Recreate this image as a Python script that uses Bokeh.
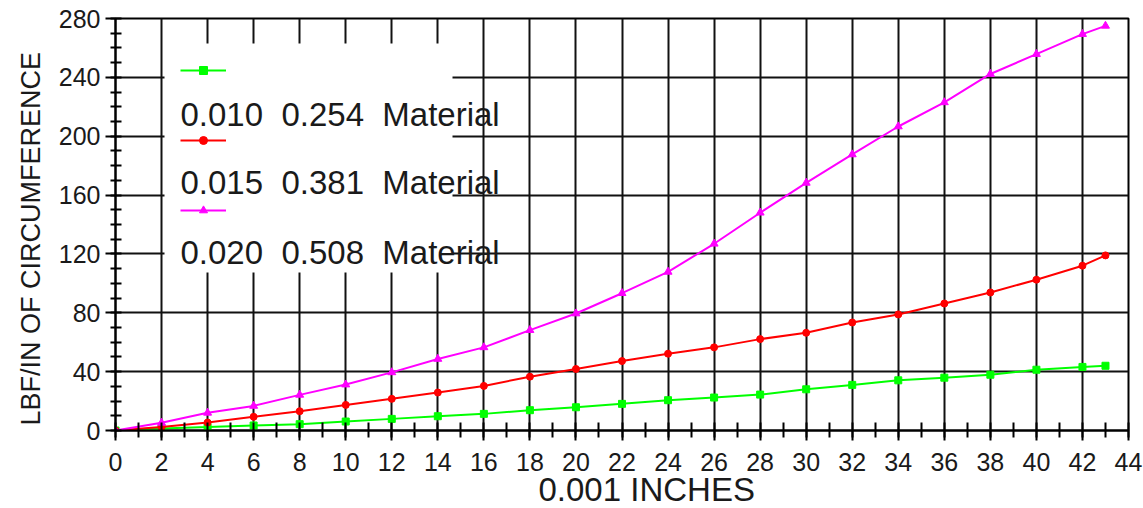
from bokeh.plotting import figure
from bokeh.models import (SingleIntervalTicker, Range1d, BoxAnnotation, Label,
                          Legend, LegendItem, Title)
from bokeh.embed import file_html
from bokeh.resources import INLINE

# ---- data ----
deflection = [0, 2, 4, 6, 8, 10, 12, 14, 16, 18, 20, 22, 24, 26, 28, 30,
              32, 34, 36, 38, 40, 42, 43]
force_010 = [0, 1.4, 2.3, 3.4, 4.3, 6.1, 7.9, 9.7, 11.3, 13.8, 15.8, 18.1,
             20.6, 22.4, 24.4, 28.0, 31.0, 34.1, 35.9, 37.9, 41.3, 43.2, 44.0]
force_015 = [0, 2.3, 5.4, 9.3, 13.1, 17.4, 21.5, 25.8, 30.3, 36.6, 41.8, 47.2,
             52.2, 56.5, 62.1, 66.4, 73.4, 78.9, 86.3, 93.8, 102.5, 112.0, 119.0]
force_020 = [0, 5.2, 12.0, 16.7, 24.2, 31.2, 39.5, 48.6, 56.5, 68.2, 79.5, 93.3,
             107.8, 126.9, 148.0, 168.3, 187.6, 206.6, 223.0, 242.3, 255.8, 269.4, 275.0]
series_labels = ["0.010\u00a0\u00a00.254\u00a0\u00a0Material",
                 "0.015\u00a0\u00a00.381\u00a0\u00a0Material",
                 "0.020\u00a0\u00a00.508\u00a0\u00a0Material"]
x_title = "0.001 INCHES"
y_title = "LBF/IN OF CIRCUMFERENCE"

FONT = "Liberation Sans"
TXT = "#1a1a1a"

p = figure(width=1143, height=508, output_backend="svg", toolbar_location=None,
           x_range=Range1d(0, 44), y_range=Range1d(0, 280),
           min_border_left=115, min_border_right=15, min_border_top=18,
           min_border_bottom=78)
p.background_fill_color = "white"
p.border_fill_color = "white"
p.outline_line_color = "black"
p.outline_line_width = 2

p.xaxis.ticker = SingleIntervalTicker(interval=2, num_minor_ticks=2)
p.yaxis.ticker = SingleIntervalTicker(interval=40, num_minor_ticks=4)

for g in (p.xgrid, p.ygrid):
    g.grid_line_color = "#111111"
    g.grid_line_width = 2

for ax in (p.xaxis, p.yaxis):
    ax.axis_line_color = "black"
    ax.axis_line_width = 2
    ax.major_tick_line_color = "black"
    ax.major_tick_line_width = 2
    ax.minor_tick_line_color = "black"
    ax.minor_tick_line_width = 2
    ax.major_tick_in = 0
    ax.major_tick_out = 10
    ax.major_label_text_font = FONT
    ax.major_label_text_font_size = "25px"
    ax.major_label_text_color = TXT

p.xaxis.minor_tick_in = 8
p.xaxis.minor_tick_out = 7
p.xaxis.major_label_standoff = 12
p.yaxis.minor_tick_in = 6
p.yaxis.minor_tick_out = 5
p.yaxis.major_label_standoff = 5

# axis titles as side-panel titles, placed like the reference
p.add_layout(Title(text=x_title, align="left", offset=423, standoff=-9,
                   text_font=FONT, text_font_size="33px", text_font_style="normal",
                   text_color=TXT), "below")
p.add_layout(Title(text=y_title, align="left", offset=5, standoff=20,
                   text_font=FONT, text_font_size="27px", text_font_style="normal",
                   text_color=TXT), "left")

specs = [(force_010, "#00ff00", "square", 7),
         (force_015, "#ff0000", "circle", 7),
         (force_020, "#ff00ff", "triangle", 8)]
items = []
for ys, col, mk, sz in specs:
    lr = p.line(deflection, ys, line_color=col, line_width=2)
    sr = p.scatter(deflection, ys, marker=mk, size=sz, fill_color=col, line_color=col)
    items.append(LegendItem(label=" ", renderers=[lr, sr]))

# legend background box (frame pixel units)
p.add_layout(BoxAnnotation(left=49, right=337, bottom=158, top=387,
                           left_units="screen", right_units="screen",
                           top_units="screen", bottom_units="screen",
                           fill_color="white", fill_alpha=1.0, line_alpha=0))

legend = Legend(items=items, location=(65, 210), glyph_width=46, glyph_height=20,
                label_height=20, label_width=1, label_standoff=0, spacing=50,
                padding=0, margin=0, label_text_font_size="10px",
                background_fill_alpha=0, border_line_alpha=0)
p.add_layout(legend)

for lab, fy in zip(series_labels, [316, 248, 178]):
    p.add_layout(Label(x=65, y=fy, x_units="screen", y_units="screen", text=lab,
                       text_font=FONT, text_font_size="33px", text_color=TXT,
                       text_align="left", text_baseline="alphabetic"))

open("out.html", "w").write(file_html(p, INLINE))
